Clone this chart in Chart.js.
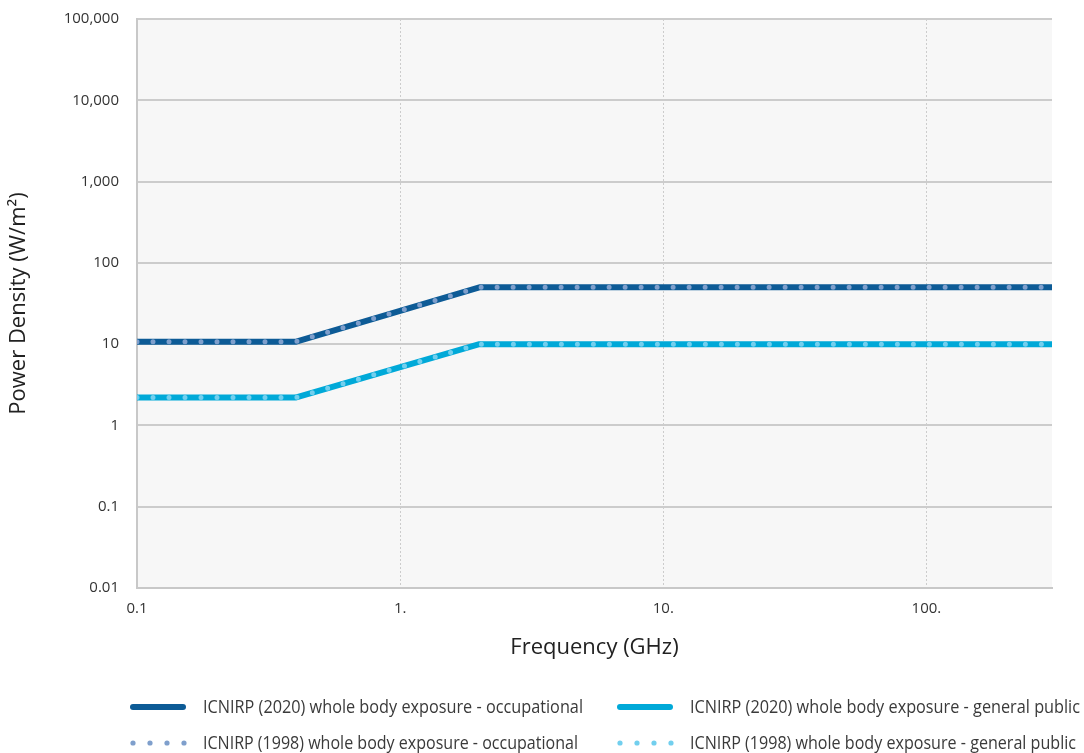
<!DOCTYPE html>
<html>
<head>
<meta charset="utf-8">
<script src="https://cdn.jsdelivr.net/npm/chart.js@4/dist/chart.umd.min.js"></script>
<style>
html,body{margin:0;padding:0;background:#ffffff;}
#wrap{width:1084px;height:753px;position:relative;}
canvas{display:block;}
</style>
</head>
<body>
<div id="wrap"><canvas id="c" width="1084" height="753"></canvas></div>
<script>
// ---- data ----
const frequencyGHz = [0.1, 0.4, 2, 300];
const occupational2020 = [10.7, 10.7, 50, 50];
const occupational1998 = [10.7, 10.7, 50, 50];
const generalPublic2020 = [2.2, 2.2, 10, 10];
const generalPublic1998 = [2.2, 2.2, 10, 10];

const seriesLabels = [
  'ICNIRP (2020) whole body exposure - occupational',
  'ICNIRP (2020) whole body exposure - general public',
  'ICNIRP (1998) whole body exposure - occupational',
  'ICNIRP (1998) whole body exposure - general public'
];

const xTickValues = [0.1, 1, 10, 100];
const xTickLabels = ['0.1', '1.', '10.', '100.'];
const yTickValues = [0.01, 0.1, 1, 10, 100, 1000, 10000, 100000];
const yTickLabels = ['0.01', '0.1', '1', '10', '100', '1,000', '10,000', '100,000'];

const xTitle = 'Frequency (GHz)';
const yTitle = 'Power Density (W/m²)';

function pts(ys){ return frequencyGHz.map((f,i)=>({x:f, y:ys[i]})); }

const COL_OCC = '#0d5b96';
const COL_OCC_DOT = '#7f9fcc';
const COL_PUB = '#00a9d8';
const COL_PUB_DOT = '#72cfee';
const GRID = '#cccccc';
const FONT = "'Open Sans', 'Noto Sans', sans-serif";
const LEG_FONT = "'Open Sans', 'Noto Sans', sans-serif";

const bgPlugin = {
  id: 'plotBg',
  beforeDraw(chart){
    const {ctx, chartArea:a} = chart;
    ctx.save();
    ctx.fillStyle = '#f7f7f7';
    ctx.fillRect(a.left, a.top, a.right - a.left, a.bottom - a.top);
    ctx.restore();
  }
};

const legendPlugin = {
  id: 'gridLegend',
  afterDraw(chart){
    const ctx = chart.ctx;
    const ds = chart.data.datasets;
    const cells = [
      {i:0, x:130, y:707, w:380},
      {i:1, x:617, y:707, w:390},
      {i:2, x:130, y:743, w:375},
      {i:3, x:617, y:743, w:386}
    ];
    ctx.save();
    ctx.font = '18px ' + LEG_FONT;
    ctx.textBaseline = 'middle';
    ctx.textAlign = 'left';
    cells.forEach(c=>{
      const d = ds[c.i];
      ctx.strokeStyle = d.borderColor;
      ctx.lineWidth = d.borderWidth;
      ctx.lineCap = 'round';
      if (d.borderDash && d.borderDash.length){
        ctx.fillStyle = d.borderColor;
        for (let k=0;k<4;k++){
          ctx.beginPath();
          ctx.arc(c.x + 3 + k*17, c.y, 2.6, 0, Math.PI*2);
          ctx.fill();
        }
      } else {
        ctx.setLineDash([]);
        ctx.beginPath();
        ctx.moveTo(c.x + 3, c.y);
        ctx.lineTo(c.x + 53, c.y);
        ctx.stroke();
      }
      ctx.fillStyle = '#3a3a3a';
      const tw = ctx.measureText(d.label).width;
      const sx = tw > c.w ? c.w / tw : 1;
      ctx.save();
      ctx.translate(c.x + 73, c.y + 1);
      ctx.scale(sx, 1);
      ctx.fillText(d.label, 0, 0);
      ctx.restore();
    });
    ctx.restore();
  }
};

new Chart(document.getElementById('c'), {
  type: 'line',
  data: {
    datasets: [
      {label: seriesLabels[0], data: pts(occupational2020), borderColor: COL_OCC, backgroundColor: COL_OCC, borderWidth: 6, pointRadius: 0, order: 4, borderJoinStyle:'round'},
      {label: seriesLabels[1], data: pts(generalPublic2020), borderColor: COL_PUB, backgroundColor: COL_PUB, borderWidth: 6, pointRadius: 0, order: 3, borderJoinStyle:'round'},
      {label: seriesLabels[2], data: pts(occupational1998), borderColor: COL_OCC_DOT, backgroundColor: COL_OCC_DOT, borderWidth: 5, borderDash: [0, 16], borderCapStyle: 'round', pointRadius: 0, order: 2},
      {label: seriesLabels[3], data: pts(generalPublic1998), borderColor: COL_PUB_DOT, backgroundColor: COL_PUB_DOT, borderWidth: 5, borderDash: [0, 16], borderCapStyle: 'round', pointRadius: 0, order: 1}
    ]
  },
  options: {
    responsive: false,
    animation: false,
    devicePixelRatio: 1,
    layout: {padding: {left: 0, top: 19, right: 32, bottom: 90}},
    plugins: {legend: {display: false}, tooltip: {enabled: false}},
    scales: {
      x: {
        type: 'logarithmic',
        min: 0.1, max: 300,
        afterBuildTicks(scale){ scale.ticks = xTickValues.map(v=>({value:v})); },
        afterFit(scale){ scale.height = 75; scale.paddingLeft = 0; scale.paddingRight = 0; },
        ticks: {
          autoSkip: false, maxRotation: 0, padding: 12,
          color: '#333333', font: {family: FONT, size: 15},
          callback(v){ const i = xTickValues.indexOf(v); return i >= 0 ? xTickLabels[i] : ''; }
        },
        grid: {drawTicks: false, color: GRID, lineWidth: 1},
        border: {display: true, color: '#c8c8c8', width: 2, dash: [2,2]},
        title: {display: true, text: xTitle, color: '#222222', font: {family: FONT, size: 22}, padding: {top: 0, bottom: 2}}
      },
      y: {
        type: 'logarithmic',
        min: 0.01, max: 100000,
        afterBuildTicks(scale){ scale.ticks = yTickValues.map(v=>({value:v})); },
        afterFit(scale){ scale.width = 137; scale.paddingTop = 0; scale.paddingBottom = 0; },
        ticks: {
          autoSkip: false, padding: 18,
          color: '#333333', font: {family: FONT, size: 15},
          callback(v){ const i = yTickValues.findIndex(t=>Math.abs(t - v) < t*1e-6); return i >= 0 ? yTickLabels[i] : ''; }
        },
        grid: {drawTicks: false, color: GRID, lineWidth: 2},
        border: {display: true, color: '#c8c8c8', width: 2},
        title: {display: true, text: yTitle, color: '#222222', font: {family: FONT, size: 22}, padding: {top: 6, bottom: 0}}
      }
    }
  },
  plugins: [bgPlugin, legendPlugin]
});
</script>
</body>
</html>
